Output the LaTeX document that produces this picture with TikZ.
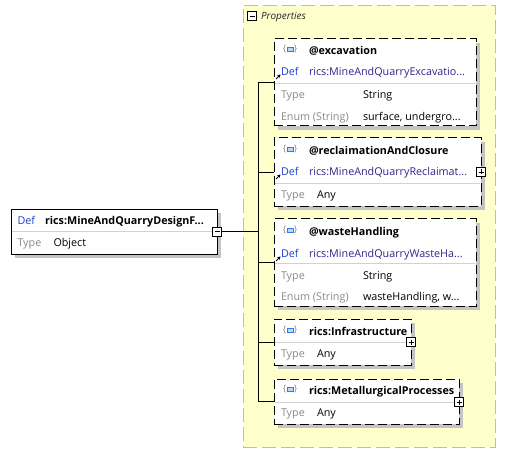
\documentclass[tikz,border=0pt]{standalone}
\usepackage{fontspec}
\setmainfont{Open Sans}
\usetikzlibrary{arrows.meta}
\definecolor{panelfill}{HTML}{FFFFCC}
\definecolor{panelborder}{HTML}{BCBCBC}
\definecolor{defblue}{HTML}{1F40D0}
\definecolor{defvalc}{HTML}{34238A}
\definecolor{lblgray}{HTML}{8A8A8A}
\definecolor{sepgray}{HTML}{D2D2D2}
\definecolor{shadowgray}{HTML}{C4C4C4}
\definecolor{iconblue}{HTML}{3A78E0}
\definecolor{iconfill}{HTML}{BFD6F6}

\newcommand{\shbox}[6]{%
  \fill[shadowgray] (#2+4,#3+4) rectangle (#2+#4+4,#3+#5+4);
  \node[#6, minimum width=#4bp, minimum height=#5bp] (#1) at (#2,#3) {};}
\newcommand{\elicon}[3]{%
  \node[icbrace] (#1l) at (#2-5,#3-2) {\{};
  \node[icbrace] (#1r) at (#2+6,#3-2) {\}};
  \draw[draw=iconblue, fill=iconfill, line width=0.9bp] (#2-2.5,#3-3.7) rectangle (#2+3.5,#3+0.7);}
\newcommand{\refarrow}[2]{%
  \draw[-{Stealth[length=3.2bp,width=3.6bp]}, line width=1bp] (#1-0.5,#2+7) -- (#1+4,#2+2.5);}

\begin{document}
\begin{tikzpicture}[x=1bp,y=-1bp,
  every node/.style={inner sep=0pt, outer sep=0pt},
  panel/.style={draw=panelborder, fill=panelfill, dash pattern=on 14bp off 5bp, line width=0.9bp},
  attrbox/.style={draw=black, fill=white, line width=1bp, dash pattern=on 9bp off 4bp, anchor=north west},
  mainbox/.style={draw=black, fill=white, line width=0.9bp, anchor=north west},
  txt/.style={anchor=west, text height=7.7bp, text depth=0bp, font=\fontsize{10.8}{12}\selectfont},
  hdr/.style={txt, font=\fontsize{10.8}{12}\selectfont\bfseries},
  deflbl/.style={txt, text=defblue},
  defval/.style={txt, text=defvalc},
  lbl/.style={txt, text=lblgray},
  val/.style={txt, text=black},
  icbrace/.style={text=lblgray, font=\fontsize{9}{9}\selectfont},
  sepline/.style={draw=sepgray, line width=0.8bp},
  conn/.style={draw=black, line width=0.9bp},
  pmbox/.style={draw=black, fill=white, minimum size=9bp, line width=0.8bp},
]
\useasboundingbox (0,0) rectangle (506,453);

% Properties panel
\node[panel, anchor=north west, minimum width=252bp, minimum height=442bp] (panel) at (243,5) {};
\node[pmbox] (panelpm) at (252,16) {};
\draw[line width=0.8bp] ([xshift=2bp]panelpm.west) -- ([xshift=-2bp]panelpm.east);
\node[txt, anchor=west, font=\fontsize{10}{12}\selectfont\itshape, text=black!85] (proplbl) at (261,16) {Properties};

% main element
\shbox{main}{11}{209}{206}{45}{mainbox}
\draw[sepline] (11.5,231) -- (216.5,231);
\node[deflbl] (mainDef) at (17.5,221) {Def};
\node[hdr] (mainName) at (45,221) {rics:MineAndQuarryDesignF...};
\node[lbl] (mainType) at (17.5,243) {Type};
\node[val] (mainTypeV) at (53.5,243) {Object};
\node[pmbox] (mainpm) at (217,231.5) {};
\draw[line width=0.8bp] ([xshift=2bp]mainpm.west) -- ([xshift=-2bp]mainpm.east);

% excavation
\shbox{exc}{274}{39}{202}{87}{attrbox}
\elicon{excic}{289.5}{51}
\node[hdr] (excH) at (309,51) {@excavation};
\node[deflbl] (excDef) at (281,72) {Def};
\node[defval] (excDefV) at (309,72) {rics:MineAndQuarryExcavatio...};
\draw[sepline] (274.6,83) -- (475.4,83);
\node[lbl] (excType) at (281,95) {Type};
\node[val] (excTypeV) at (363,95) {String};
\node[lbl] (excEnum) at (281,117) {Enum (String)};
\node[val] (excEnumV) at (363,117) {surface, undergro...};

% reclamation
\shbox{rec}{274}{138}{207}{68}{attrbox}
\elicon{recic}{289.5}{151}
\node[hdr] (recH) at (309,151) {@reclaimationAndClosure};
\node[deflbl] (recDef) at (281,172) {Def};
\node[defval] (recDefV) at (309,172) {rics:MineAndQuarryReclaimat...};
\draw[sepline] (274.6,183) -- (480.4,183);
\node[lbl] (recType) at (281,195) {Type};
\node[val] (recTypeV) at (317,195) {Any};
\node[pmbox] (recpm) at (481,172) {};
\draw[line width=0.8bp] ([xshift=2bp]recpm.west) -- ([xshift=-2bp]recpm.east) ([yshift=-2bp]recpm.north) -- ([yshift=2bp]recpm.south);

% waste handling
\shbox{waste}{274}{219}{202}{87}{attrbox}
\elicon{wasteic}{289.5}{232}
\node[hdr] (wasteH) at (309,232) {@wasteHandling};
\node[deflbl] (wasteDef) at (281,254) {Def};
\node[defval] (wasteDefV) at (309,254) {rics:MineAndQuarryWasteHa...};
\draw[sepline] (274.6,263.5) -- (475.4,263.5);
\node[lbl] (wasteType) at (281,276) {Type};
\node[val] (wasteTypeV) at (363,276) {String};
\node[lbl] (wasteEnum) at (281,297) {Enum (String)};
\node[val] (wasteEnumV) at (363,297) {wasteHandling, w...};

% infrastructure
\shbox{infra}{274}{319}{137}{46}{attrbox}
\elicon{infraic}{289.5}{332}
\node[hdr] (infraH) at (309,332) {rics:Infrastructure};
\draw[sepline] (274.6,342) -- (410.4,342);
\node[lbl] (infraType) at (281,354) {Type};
\node[val] (infraTypeV) at (317,354) {Any};
\node[pmbox] (infrapm) at (411,342) {};
\draw[line width=0.8bp] ([xshift=2bp]infrapm.west) -- ([xshift=-2bp]infrapm.east) ([yshift=-2bp]infrapm.north) -- ([yshift=2bp]infrapm.south);

% metallurgical
\shbox{met}{274}{379}{185}{45}{attrbox}
\elicon{metic}{289.5}{391}
\node[hdr] (metH) at (309,391) {rics:MetallurgicalProcesses};
\draw[sepline] (274.6,402) -- (458.4,402);
\node[lbl] (metType) at (281,413) {Type};
\node[val] (metTypeV) at (317,413) {Any};
\node[pmbox] (metpm) at (459,402) {};
\draw[line width=0.8bp] ([xshift=2bp]metpm.west) -- ([xshift=-2bp]metpm.east) ([yshift=-2bp]metpm.north) -- ([yshift=2bp]metpm.south);

% connectors
\coordinate (trunk) at (258,231.5);
\draw[conn] (mainpm.east) -- (trunk);
\draw[conn] (exc.west -| trunk) -- (met.west -| trunk);
\draw[conn] (exc.west -| trunk) -- (exc.west);
\draw[conn] (rec.west -| trunk) -- (rec.west);
\draw[conn] (waste.west -| trunk) -- (waste.west);
\draw[conn] (infra.west -| trunk) -- (infra.west);
\draw[conn] (met.west -| trunk) -- (met.west);

% reference arrows
\refarrow{276.5}{72}
\refarrow{276.5}{172}
\refarrow{276.5}{254}
\end{tikzpicture}
\end{document}
